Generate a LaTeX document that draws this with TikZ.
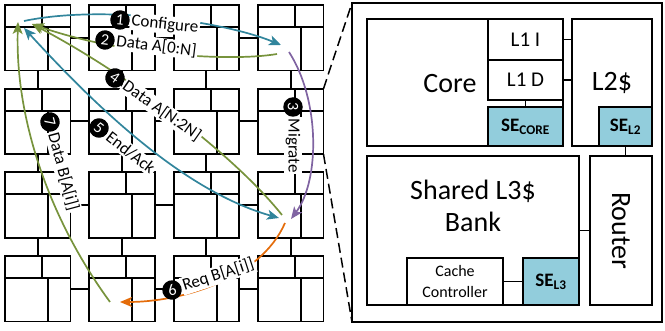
\documentclass[tikz,border=0pt]{standalone}
\usepackage{fontspec}
\setmainfont{Carlito}
\usetikzlibrary{arrows.meta}

\definecolor{flowteal}{HTML}{31859C}
\definecolor{flowgreen}{HTML}{77933C}
\definecolor{flowpurple}{HTML}{8064A2}
\definecolor{floworange}{HTML}{E46C0A}
\definecolor{sefill}{HTML}{92CDDC}

\tikzset{
  tile/.style={draw, line width=1.9pt, minimum width=65.5pt, minimum height=65.5pt, inner sep=0pt, outer sep=0pt},
  gridline/.style={line width=1.9pt},
  flow/.style={line width=1.7pt, -{Stealth[length=12pt,width=10pt,inset=3pt]}},
  flowboth/.style={line width=1.7pt, {Stealth[length=12pt,width=10pt,inset=3pt]}-{Stealth[length=12pt,width=10pt,inset=3pt]}},
  numc/.style={circle, fill=black, text=white, inner sep=0pt, minimum size=19.5pt, font=\fontsize{16}{16}\selectfont},
  lbl/.style={fill=white, inner sep=1.5pt, anchor=west, font=\fontsize{17}{17}\selectfont},
  blk/.style={draw, line width=1.6pt, inner sep=0pt, outer sep=0pt},
  sebox/.style={blk, fill=sefill, font=\fontsize{19}{19}\selectfont\bfseries},
  big/.style={font=\fontsize{28}{32}\selectfont},
}

\begin{document}
\begin{tikzpicture}[x=1pt,y=-1pt]
\useasboundingbox (0,0) rectangle (665,331);

% 4x4 mesh of tiles
\foreach \r in {0,...,3} {
  \foreach \c in {0,...,3} {
    \pgfmathsetmacro\xo{5+84.33*\c}
    \pgfmathsetmacro\yo{5+83.67*\r}
    \node[tile] (t\r\c) at (\xo+32.75,\yo+32.75) {};
    \draw[gridline] (\xo,\yo+22) -- ++(65.5,0);
    \draw[gridline] (\xo+37,\yo) -- ++(0,22);
    \draw[gridline] (\xo+43,\yo+22) -- ++(0,43.5);
  }
}
% mesh links
\foreach \r in {0,...,3} {
  \foreach \c/\d in {0/1,1/2,2/3} {
    \draw[gridline] (t\r\c.east) -- (t\r\d.west);
  }
}
\foreach \c in {0,...,3} {
  \foreach \r/\s in {0/1,1/2,2/3} {
    \draw[gridline] (t\r\c.south) -- (t\s\c.north);
  }
}

% end points of the message arrows
\coordinate (cfgS) at (24,21);
\coordinate (cfgE) at (281,45);
\coordinate (hub) at (32,24);
\coordinate (dA0) at (277,54);
\coordinate (dA1) at (282,215);
\coordinate (ackA) at (24,28);
\coordinate (ackB) at (279,218);
\coordinate (dBs) at (110,302);
\coordinate (dBe) at (18,22);
\coordinate (migS) at (289,52);
\coordinate (migE) at (291,219);
\coordinate (reqS) at (285,223);
\coordinate (reqE) at (120,302);

% message arrows
\draw[flow, flowteal] (cfgS) .. controls (100,5) and (220,20) .. (cfgE);
\draw[flow, flowgreen] (dA0) .. controls (230,62) and (120,55) .. (hub);
\draw[flow, flowgreen] (dA1) .. controls (230,150) and (120,70) .. (hub);
\draw[flowboth, flowteal] (ackA) .. controls (90,100) and (180,190) .. (ackB);
\draw[flow, flowgreen] (dBs) .. controls (50,220) and (15,120) .. (dBe);
\draw[flow, flowpurple] (migS) .. controls (320,100) and (320,180) .. (migE);
\draw[flow, floworange] (reqS) .. controls (260,280) and (180,302) .. (reqE);

% step labels
\node[numc, rotate=-6] (n1) at (120,20) {1};
\node[lbl, rotate=-6] (l1) at (n1.east) {Configure};
\node[numc, rotate=-7] (n2) at (105,40) {2};
\node[lbl, rotate=-7] (l2) at (n2.east) {Data A[0:N]};
\node[numc, rotate=-90] (n3) at (293,107) {3};
\node[lbl, rotate=-90] (l3) at (n3.east) {Migrate};
\node[numc, rotate=-35] (n4) at (115,78) {4};
\node[lbl, rotate=-35] (l4) at (n4.east) {Data A[N:2N]};
\node[numc, rotate=-38] (n5) at (99,128) {5};
\node[lbl, rotate=-38] (l5) at (n5.east) {End/Ack};
\node[numc, rotate=18] (n6) at (172,290) {6};
\node[lbl, rotate=18] (l6) at (n6.east) {Req B[A[i]]};
\node[numc, rotate=-75] (n7) at (50,122) {7};
\node[lbl, rotate=-75] (l7) at (n7.east) {Data B[A[i]]};

% enlarged tile
\node[blk, minimum width=310pt, minimum height=319pt] (tilebig) at (507,162.5) {};
\draw[line width=1.5pt, dash pattern=on 10pt off 5pt] (t13.north east) -- (tilebig.north west);
\draw[line width=1.5pt, dash pattern=on 10pt off 5pt] (t13.south east) -- (tilebig.south west);

\node[blk, minimum width=196pt, minimum height=127pt] (core) at (465,82.5) {};
\node[big] (coretxt) at (450,84) {Core};
\node[blk, minimum width=75pt, minimum height=41pt, font=\fontsize{21}{21}\selectfont] (l1i) at (525.5,39.5) {L1 I};
\node[blk, minimum width=75pt, minimum height=40pt, font=\fontsize{21}{21}\selectfont] (l1d) at (525.5,80) {L1 D};
\node[sebox, minimum width=75pt, minimum height=39pt] (secore) at (525.5,126.5) {SE\textsubscript{CORE}};
\node[blk, big, minimum width=80pt, minimum height=127pt] (l2) at (612,82.5) {L2\$};
\node[sebox, minimum width=53pt, minimum height=39pt] (sel2) at (625.5,126.5) {SE\textsubscript{L2}};

\node[blk, minimum width=212pt, minimum height=149pt] (l3) at (473,230.5) {};
\node[big, align=center] (l3txt) at (473,206) {Shared L3\$\\Bank};
\node[blk, big, minimum width=62pt, minimum height=149pt] (router) at (621,230.5) {};
\node[big, rotate=-90] (routertxt) at (router.center) {Router};
\node[blk, minimum width=96pt, minimum height=47pt, align=center, font=\fontsize{16}{21}\selectfont] (cc) at (455,281.5) {Cache\\Controller};
\node[sebox, minimum width=56pt, minimum height=47pt] (sel3) at (551,281.5) {SE\textsubscript{L3}};

% on-tile links
\draw[line width=1.6pt] (l1i.east) -- (l1i.east -| l2.west);
\draw[line width=1.6pt] (l1d.east) -- (l1d.east -| l2.west);
\draw[line width=1.6pt] (l1d.south) -- (secore.north);
\draw[line width=1.6pt] (sel2.south) -- (sel2.south |- router.north);
\draw[line width=1.6pt] (l3.east) -- (router.west);
\draw[line width=1.6pt] (cc.east) -- (sel3.west);
\end{tikzpicture}
\end{document}
